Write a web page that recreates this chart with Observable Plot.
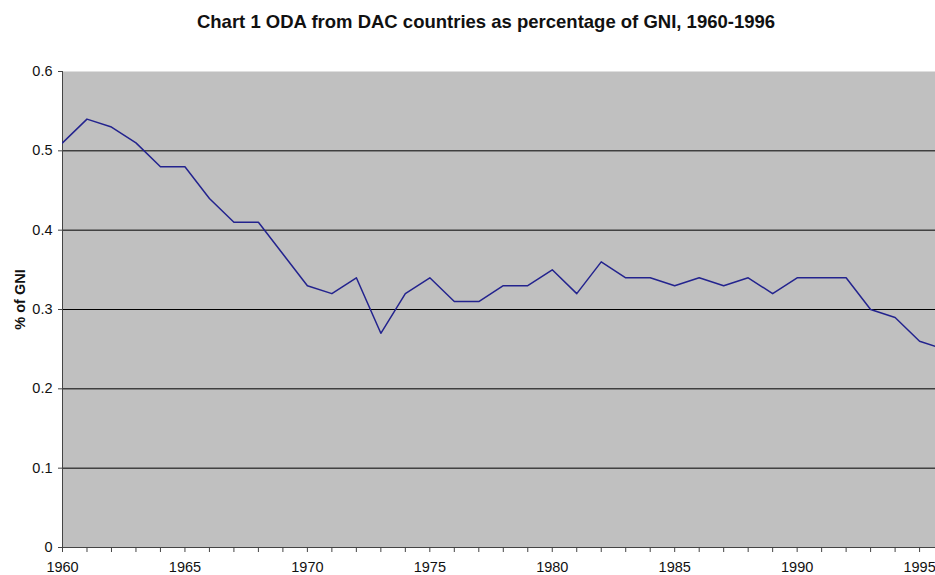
<!DOCTYPE html>
<html>
<head>
<meta charset="utf-8">
<script src="https://cdn.jsdelivr.net/npm/d3@7"></script>
<script src="https://cdn.jsdelivr.net/npm/@observablehq/plot@0.6"></script>
<style>
  body { margin: 0; background: #fff; }
  #wrap { position: relative; width: 935px; height: 575px; }
  #title { position: absolute; top: 11px; left: 0; width: 935px; padding-left: 37px; box-sizing: border-box;
    text-align: center; font: bold 18.5px "Liberation Sans", Arial, sans-serif; line-height: 22px; color: #111; white-space: nowrap; }
  #chart { position: absolute; top: 40px; left: 0; }
</style>
</head>
<body>
<div id="wrap">
  <div id="title">Chart 1 ODA from DAC countries as percentage of GNI, 1960-1996</div>
  <div id="chart"></div>
</div>
<script>
const years = [1960,1961,1962,1963,1964,1965,1966,1967,1968,1969,
               1970,1971,1972,1973,1974,1975,1976,1977,1978,1979,
               1980,1981,1982,1983,1984,1985,1986,1987,1988,1989,
               1990,1991,1992,1993,1994,1995,1996];
const odaPct = [0.51,0.54,0.53,0.51,0.48,0.48,0.44,0.41,0.41,0.37,
                0.33,0.32,0.34,0.27,0.32,0.34,0.31,0.31,0.33,0.33,
                0.35,0.32,0.36,0.34,0.34,0.33,0.34,0.33,0.34,0.32,
                0.34,0.34,0.34,0.30,0.29,0.26,0.25];
const yTicks = [0, 0.1, 0.2, 0.3, 0.4, 0.5, 0.6];
const gridValues = [0.1, 0.2, 0.3, 0.4, 0.5];
const yLabel = "% of GNI";

const data = years.map((y, i) => ({year: y, value: odaPct[i]}));

const chart = Plot.plot({
  width: 935,
  height: 535,
  marginLeft: 62,
  marginRight: 0,
  marginTop: 31,
  marginBottom: 28,
  style: {fontFamily: "'Liberation Sans', Arial, sans-serif", fontSize: "14.5px", color: "#111", background: "transparent", overflow: "visible"},
  x: {type: "linear", domain: [1960, 1995.65]},
  y: {domain: [0, 0.6]},
  marks: [
    Plot.frame({fill: "#c0c0c0", stroke: null}),
    Plot.ruleY(gridValues, {stroke: "#000", strokeWidth: 1}),
    Plot.ruleY([0], {stroke: "#444"}),
    Plot.ruleX([1960], {stroke: "#444"}),
    Plot.axisY({ticks: yTicks, tickSize: 4, tickPadding: 6, stroke: "#444", fill: "#111", fontSize: 14.5,
      tickFormat: d => d === 0 ? "0" : d.toFixed(1), label: null}),
    Plot.axisX({ticks: years.slice(0, 36), tickSize: 5, tickPadding: 9, stroke: "#444", fill: "#111", fontSize: 14.5,
      tickFormat: d => d % 5 === 0 ? String(d) : "", label: null}),
    Plot.line(data, {x: "year", y: "value", stroke: "#23238e", strokeWidth: 1.5, clip: true}),
    Plot.text([yLabel], {frameAnchor: "left", text: d => d, rotate: -90, dx: -42, dy: -10, textAnchor: "middle",
      fontWeight: "bold", fontSize: 14.5, fill: "#111"})
  ]
});
document.getElementById("chart").appendChild(chart);
</script>
</body>
</html>
